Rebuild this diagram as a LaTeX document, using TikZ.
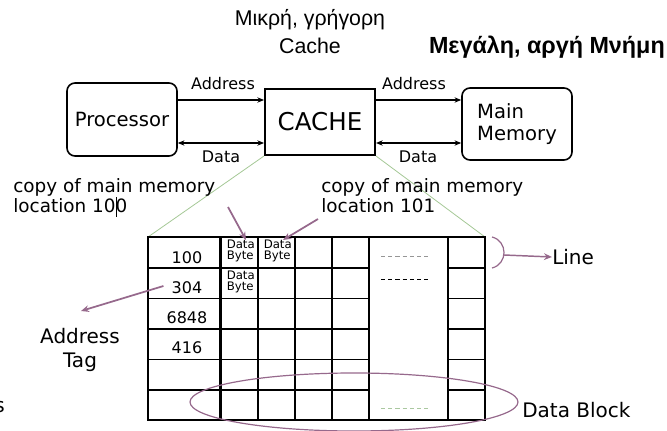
\documentclass[tikz,border=0pt]{standalone}
\usepackage{fontspec}
\setmainfont{DejaVu Sans}
\newfontfamily\arialfont{Liberation Sans}
\usetikzlibrary{arrows.meta}

\definecolor{mauve}{RGB}{150,105,140}
\definecolor{leafgreen}{RGB}{165,200,150}
\definecolor{dashgray}{RGB}{150,150,150}
\definecolor{dashgreen}{RGB}{170,200,160}

\begin{document}
\begin{tikzpicture}[x=0.75pt,y=-0.75pt,
  unit/.style={draw, line width=1.2pt, inner sep=0pt, align=center},
  roundunit/.style={unit, rounded corners=6pt, minimum width=82.5pt, minimum height=54.75pt},
  bigfont/.style={font=\fontsize{14.7}{17}\selectfont},
  flowlabel/.style={font=\fontsize{12}{14}\selectfont, inner sep=0pt},
  note/.style={font=\fontsize{13.8}{15}\selectfont, align=left, inner sep=0pt},
  callout/.style={font=\fontsize{15}{18}\selectfont, align=center, inner sep=0pt},
  tagnum/.style={font=\fontsize{12}{14}\selectfont, inner sep=0pt},
  bytecell/.style={font=\fontsize{8.8}{7.9}\selectfont, align=left, inner sep=0pt, anchor=north west},
  greek/.style={font=\arialfont\fontsize{16}{19.5}\selectfont, align=center, inner sep=0pt},
  flow/.style={-{Stealth[length=5pt,width=4pt]}, line width=0.8pt},
  bothflow/.style={{Stealth[length=5pt,width=4pt]}-{Stealth[length=5pt,width=4pt]}, line width=0.8pt},
  pointer/.style={-{Stealth[length=6pt,width=5pt]}, draw=mauve, line width=1.3pt},
  zoomline/.style={draw=leafgreen, line width=0.6pt},
  outer/.style={line width=1.9pt},
  grid/.style={line width=1.3pt},
  dashrow/.style={dash pattern=on 3.2pt off 2.2pt, line width=0.6pt}
]
\useasboundingbox (0,0) rectangle (667,431);

% headings
\node[greek, anchor=base] (small) at (310,26) {Μικρή, γρήγορη};
\node[greek, anchor=base] (smallb) at (310,54) {Cache};
\node[greek, font=\arialfont\bfseries\fontsize{17.5}{19.5}\selectfont, anchor=base east] (large) at (665,54) {Μεγάλη, αργή Μνήμη};

% processor, cache and main memory
\node[roundunit, bigfont] (proc) at (122,119.5) {Processor};
\node[unit, line width=1.5pt, minimum width=82.5pt, minimum height=49.5pt,
      font=\fontsize{18.4}{21}\selectfont] (cache) at (320,122) {CACHE};
\node[roundunit, bigfont, align=left, minimum height=54pt] (mem) at (517,124) {Main\\Memory};

% address and data paths
\coordinate (pa) at (proc.east |- 0,100);
\coordinate (ca) at (cache.west |- 0,100);
\coordinate (pd) at (proc.east |- 0,143);
\coordinate (cd) at (cache.west |- 0,143);
\coordinate (ca2) at (cache.east |- 0,100);
\coordinate (ma) at (mem.west |- 0,100);
\coordinate (cd2) at (cache.east |- 0,143);
\coordinate (md) at (mem.west |- 0,143);
\draw[flow] (pa) -- (ca);
\draw[bothflow] (pd) -- (cd);
\draw[flow] (ca2) -- (ma);
\draw[bothflow] (cd2) -- (md);
\node[flowlabel] (addr1) at (223,84) {Address};
\node[flowlabel] (data1) at (221,157) {Data};
\node[flowlabel] (addr2) at (414,84) {Address};
\node[flowlabel] (data2) at (418,157) {Data};

% the cache table
\coordinate (tl) at (148,237);
\coordinate (tr) at (485,237);
\draw[zoomline] (cache.south west) -- (tl);
\draw[zoomline] (cache.south east) -- (tr);

\foreach \y in {268,298.5,329,359.5,390} {
  \draw[grid] (148,\y) -- (369,\y);
  \draw[grid] (448,\y) -- (485,\y);
}
\foreach \x in {258,295,332,369,448} {
  \draw[grid] (\x,237) -- (\x,420);
}
\draw[line width=2.3pt] (220.5,237) -- (220.5,420);
\draw[outer] (148,237) rectangle (485,420);

% dotted continuation marks
\draw[dashrow, draw=dashgray] (381,256) -- (428,256);
\draw[dashrow] (381,279) -- (428,279);
\draw[dashrow, draw=dashgreen] (381,408) -- (428,408);

% address tags
\node[tagnum] (t1) at (187,258) {100};
\node[tagnum] (t2) at (187,288) {304};
\node[tagnum] (t3) at (187,318) {6848};
\node[tagnum] (t4) at (187,348) {416};

% data bytes
\node[bytecell] (b1) at (226.5,240) {Data\\Byte};
\node[bytecell] (b2) at (263.5,240) {Data\\Byte};
\node[bytecell] (b3) at (226.5,271) {Data\\Byte};

% notes above the table
\node[note, anchor=west] (copy1) at (13,196) {copy of main memory\\location 100};
\node[note, anchor=west] (copy2) at (321,196) {copy of main memory\\location 101};
\draw[line width=0.6pt] (116,197) -- (116,217);

\coordinate (p1s) at (228,207);
\coordinate (p2s) at (318,219);
\draw[pointer] (p1s) -- (b1.north -| 246,0);
\draw[pointer] (p2s) -- (b2.north -| 283,0);

% address tag pointer
\node[callout] (tag) at (80,350) {Address\\Tag};
\coordinate (tagtip) at (81,311);
\draw[pointer] (t2.west) ++(-8,-2) -- (tagtip);

% line bracket
\coordinate (lb1) at (492,237);
\coordinate (lb2) at (492,268);
\draw[mauve, line width=0.9pt] (lb1) .. controls (508,241) and (508,264) .. (lb2);
\node[callout, anchor=west] (linelbl) at (552,257) {Line};
\coordinate (lbm) at (504,255);
\draw[pointer, line width=1.1pt] (lbm) -- (linelbl.west);

% data block ellipse
\draw[mauve, line width=0.9pt] (354,402) ellipse [x radius=164, y radius=29];
\node[callout, anchor=west] (blk) at (522,410) {Data Block};

% partly hidden letter at the left edge
\node[font=\fontsize{15}{18}\selectfont, inner sep=0pt, anchor=base east] (edge) at (5,412) {s};
\end{tikzpicture}
\end{document}
